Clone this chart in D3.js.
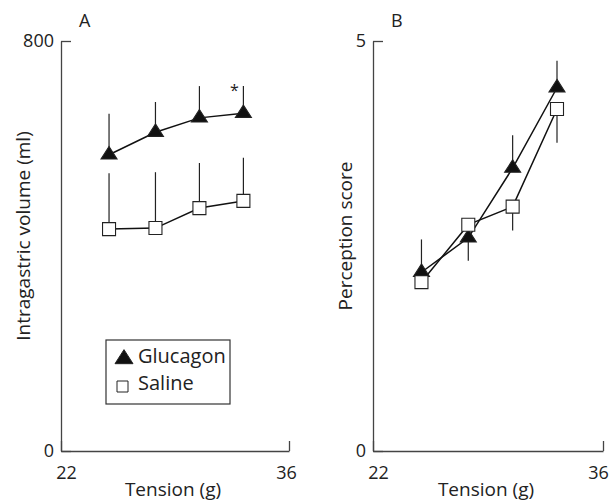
<!DOCTYPE html>
<html>
<head>
  <meta charset="utf-8">
  <script src="https://cdn.jsdelivr.net/npm/d3@7"></script>
  <style>
    body { margin: 0; background: #fff; }
    svg text { font-family: "Open Sans", sans-serif; fill: #222; }
    .domain { stroke: #444; stroke-width: 1.3; }
    .tick line { stroke: #444; stroke-width: 1.3; }
  </style>
</head>
<body>
  <div id="chart"></div>
  <script>
    // tension values (g), shared by both panels
    var tension = [24.95, 27.8, 30.5, 33.2];
    var xTicks = [22, 36];

    // panel A: intragastric volume (ml)
    var volGlucagon = [578, 622, 650, 659];
    var volGlucagonErr = [658, 681, 712, 712];
    var volSaline = [433, 435, 474, 488];
    var volSalineErr = [542, 544, 562, 572];
    var volTicks = [0, 800];

    // panel B: perception score
    var scoreGlucagon = [2.18, 2.6, 3.45, 4.43];
    var scoreGlucagonErr = [2.58, 2.32, 3.85, 4.76];
    var scoreSaline = [2.06, 2.76, 2.98, 4.17];
    var scoreSalineErr = [2.06, 2.76, 2.69, 3.76];
    var scoreTicks = [0, 5];

    var seriesNames = ['Glucagon', 'Saline'];

    var svg = d3.select('#chart').append('svg')
      .attr('width', 610)
      .attr('height', 502);

    // a slightly flattened triangle, like the original markers
    var flatTriangle = {
      draw: function (ctx, size) {
        var w = Math.sqrt(size), h = w * 0.78;
        ctx.moveTo(0, -h * 2 / 3);
        ctx.lineTo(w / 2, h / 3);
        ctx.lineTo(-w / 2, h / 3);
        ctx.closePath();
      }
    };
    var triangle = d3.symbol().type(flatTriangle).size(256);
    var square = d3.symbol().type(d3.symbolSquare).size(169);

    function panel(opts) {
      var x = d3.scaleLinear().domain([22, 36]).range([opts.left, opts.right]);
      var y = d3.scaleLinear().domain(opts.ydomain).range([451, 41]);
      var g = svg.append('g');

      // axes
      g.append('g')
        .attr('transform', 'translate(0,451)')
        .call(d3.axisBottom(x).tickValues(xTicks).tickSizeInner(-10).tickSizeOuter(0).tickPadding(15))
        .call(a => a.selectAll('text')
          .attr('font-size', 18)
          .attr('dx', d => d === 22 ? 5 : opts.endShift));
      g.append('g')
        .attr('transform', 'translate(' + opts.left + ',0)')
        .call(d3.axisLeft(y).tickValues(opts.yticks).tickFormat(d3.format('d'))
          .tickSizeInner(-10).tickSizeOuter(0).tickPadding(7))
        .call(a => a.selectAll('text').attr('font-size', 18));
      g.selectAll('.tick text').style('font-family', '"Open Sans", sans-serif').attr('fill', '#222');

      // titles
      g.append('text')
        .attr('x', (opts.left + opts.right) / 2 - 2)
        .attr('y', 496)
        .attr('text-anchor', 'middle')
        .attr('font-size', 19)
        .text('Tension (g)');
      g.append('text')
        .attr('transform', 'translate(' + opts.ytitleX + ',236) rotate(-90)')
        .attr('text-anchor', 'middle')
        .attr('font-size', 19)
        .text(opts.ytitle);
      g.append('text')
        .attr('x', opts.left + 18)
        .attr('y', 27)
        .attr('font-size', 18)
        .text(opts.letter);

      var line = d3.line().x((d, i) => x(tension[i])).y(d => y(d));

      opts.series.forEach(function (s) {
        // error bars
        g.selectAll(null).data(s.vals).enter().append('line')
          .attr('x1', (d, i) => x(tension[i]))
          .attr('x2', (d, i) => x(tension[i]))
          .attr('y1', d => y(d))
          .attr('y2', (d, i) => y(s.err[i]))
          .attr('stroke', '#222')
          .attr('stroke-width', 1.2);
      });
      opts.series.forEach(function (s) {
        g.append('path')
          .datum(s.vals)
          .attr('d', line)
          .attr('fill', 'none')
          .attr('stroke', '#111')
          .attr('stroke-width', 1.5);
      });
      opts.series.forEach(function (s) {
        g.selectAll(null).data(s.vals).enter().append('path')
          .attr('transform', (d, i) => 'translate(' + x(tension[i]) + ',' + y(d) + ')')
          .attr('d', s.sym)
          .attr('fill', s.fill)
          .attr('stroke', '#222')
          .attr('stroke-width', 1.1);
      });
      return { x: x, y: y, g: g };
    }

    var pA = panel({
      left: 61, right: 289, ydomain: [0, 800], yticks: volTicks, endShift: -3,
      ytitle: 'Intragastric volume (ml)', ytitleX: 30, letter: 'A',
      series: [
        { vals: volGlucagon, err: volGlucagonErr, sym: triangle, fill: '#111' },
        { vals: volSaline, err: volSalineErr, sym: square, fill: '#fff' }
      ]
    });

    var pB = panel({
      left: 373, right: 603, ydomain: [0, 5], yticks: scoreTicks, endShift: -5,
      ytitle: 'Perception score', ytitleX: 352, letter: 'B',
      series: [
        { vals: scoreGlucagon, err: scoreGlucagonErr, sym: triangle, fill: '#111' },
        { vals: scoreSaline, err: scoreSalineErr, sym: square, fill: '#fff' }
      ]
    });

    // significance mark on last glucagon point
    pA.g.append('text')
      .attr('x', pA.x(tension[3]) - 9)
      .attr('y', pA.y(volGlucagonErr[3]) + 10)
      .attr('text-anchor', 'middle')
      .attr('font-size', 16)
      .text('*');

    // legend
    var leg = pA.g.append('g').attr('transform', 'translate(106,340)');
    leg.append('rect')
      .attr('width', 124)
      .attr('height', 64)
      .attr('fill', '#fff')
      .attr('stroke', '#333')
      .attr('stroke-width', 1.2);
    var legSyms = [d3.symbol().type(flatTriangle).size(324), d3.symbol().type(d3.symbolSquare).size(121)];
    var legFills = ['#111', '#fff'];
    leg.selectAll('.item').data(seriesNames).enter().append('g')
      .attr('class', 'item')
      .attr('transform', (d, i) => 'translate(0,' + (i * 27) + ')')
      .each(function (d, i) {
        var it = d3.select(this);
        it.append('path')
          .attr('transform', 'translate(' + (i === 0 ? 18 : 16.5) + ',' + (i === 0 ? 19 : 19.5) + ')')
          .attr('d', legSyms[i])
          .attr('fill', legFills[i])
          .attr('stroke', '#222')
          .attr('stroke-width', 1);
        it.append('text')
          .attr('x', 32)
          .attr('y', 23)
          .attr('font-size', 20)
          .text(d);
      });
  </script>
</body>
</html>
